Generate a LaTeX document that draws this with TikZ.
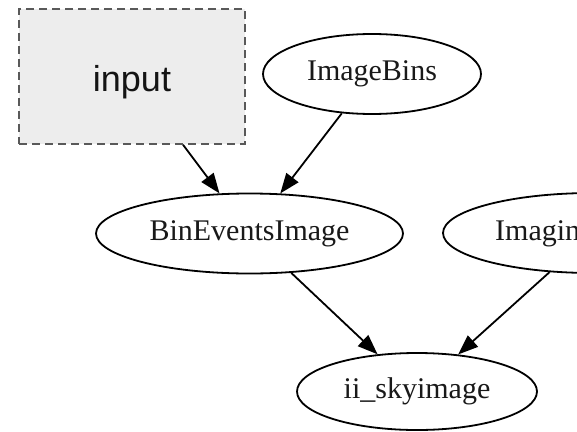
\documentclass[tikz,border=0pt]{standalone}
\usepackage{fontspec}
\setmainfont{Liberation Serif}
\newfontfamily\boxfont{Liberation Sans}
\usetikzlibrary{arrows.meta,shapes.geometric}
\tikzset{
  gvnode/.style={ellipse, draw=black, line width=1.8pt, inner sep=0pt,
    font=\fontsize{30}{36}\selectfont, text=black!90},
  gvtext/.style={font=\fontsize{30}{36}\selectfont, text=black!90, inner sep=0pt},
  gvedge/.style={line width=1.8pt, draw=black,
    -{Triangle[length=20pt,width=15pt]}},
  inbox/.style={rectangle, draw=black!65, fill=black!7, line width=1.5pt,
    dash pattern=on 8pt off 5pt, minimum width=226pt, minimum height=135pt,
    inner sep=0pt},
  intext/.style={font=\boxfont\fontsize{36}{42}\selectfont, text=black!92, inner sep=0pt}
}
\begin{document}
\begin{tikzpicture}[x=1pt,y=-1pt]
\useasboundingbox (0,0) rectangle (577,431);
\clip (0,0) rectangle (577,431);
\fill[white] (0,0) rectangle (577,431);
\node[inbox] (input) at (132,76.5) {};
\node[intext] (inputlabel) at (132,82) {input};
\node[gvnode, minimum width=218pt, minimum height=80pt] (bins) at (372,74) {ImageBins};
\node[gvnode, minimum width=307pt, minimum height=80pt] (bin) at (249.5,233.5) {BinEventsImage};
\node[gvnode, minimum width=300pt, minimum height=80pt] (imag) at (593,233) {};
\node[gvtext, anchor=west] (imaglabel) at (495,233.5) {Imagin};
\node[gvnode, minimum width=240pt, minimum height=77pt] (sky) at (417,391.5) {ii\_skyimage};
\draw[gvedge] (input) -- (bin);
\draw[gvedge] (bins) -- (bin);
\draw[gvedge] (bin) -- (sky);
\draw[gvedge] (imag) -- (sky);
\end{tikzpicture}
\end{document}
